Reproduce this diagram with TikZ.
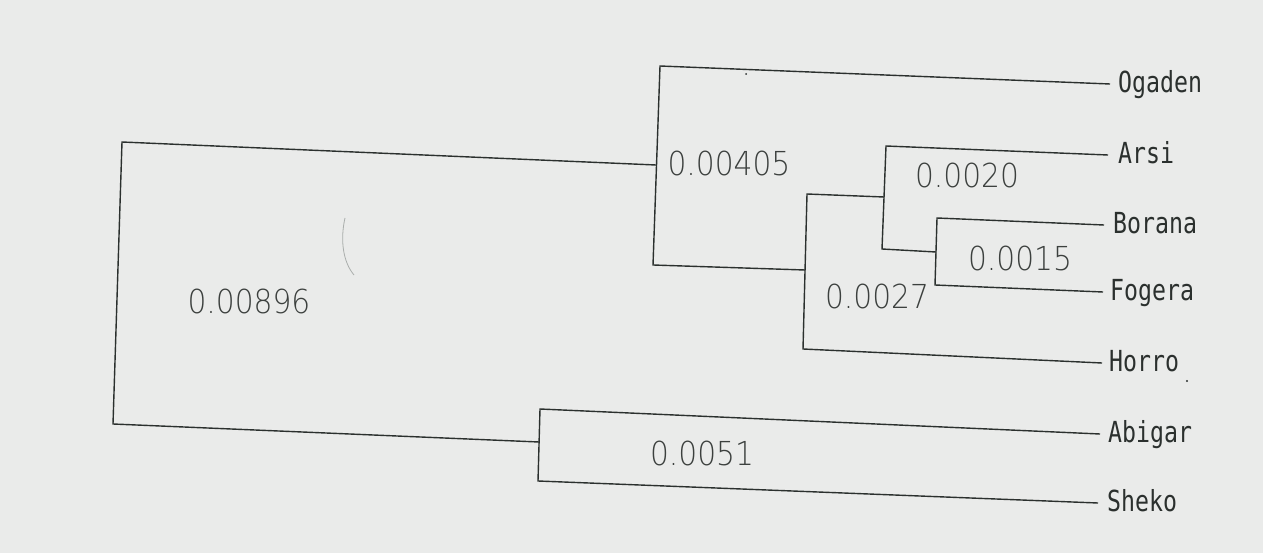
\documentclass[tikz,border=0pt]{standalone}
\usepackage{fontspec}
\newfontfamily\labfont{DejaVu Sans Mono}[FakeStretch=0.8]
\newfontfamily\numfont{DejaVuSans-ExtraLight.ttf}[FakeStretch=0.9]
\definecolor{bg}{HTML}{EAEBEA}
\definecolor{ink}{HTML}{2B302E}
\definecolor{numink}{HTML}{3C403E}
\definecolor{pencil}{HTML}{A9ADAB}
\begin{document}
\begin{tikzpicture}[x=1pt,y=-1pt,
  br/.style={draw=ink,line width=1.4pt,line join=miter},
  lab/.style={anchor=mid west,inner xsep=0pt,inner ysep=0pt,font=\labfont\fontsize{29}{29}\selectfont,text=ink},
  num/.style={inner sep=0pt,font=\numfont\fontsize{33}{33}\selectfont,text=numink}]
\fill[bg] (0,0) rectangle (1263,553);
\useasboundingbox (0,0) rectangle (1263,553);
% root
\coordinate (rt) at (122,142);
\coordinate (rb) at (113,424);
% node A (0.00405)
\coordinate (aT) at (660,66);
\coordinate (aJ) at (656,165);
\coordinate (aB) at (653,265);
% node B (0.0027)
\coordinate (bT) at (807,194);
\coordinate (bJ) at (805,270);
\coordinate (bB) at (803,349);
% node C (0.0020)
\coordinate (cT) at (886,146);
\coordinate (cJ) at (884,197);
\coordinate (cB) at (882,249);
% node D (0.0015)
\coordinate (dT) at (937,218);
\coordinate (dJ) at (936,252);
\coordinate (dB) at (935,285);
% node E (0.0051)
\coordinate (eT) at (540,409);
\coordinate (eJ) at (539,442);
\coordinate (eB) at (538,481);
% leaf ends
\coordinate (ogE) at (1110,84);
\coordinate (arE) at (1108,155);
\coordinate (boE) at (1104,225);
\coordinate (foE) at (1103,292);
\coordinate (hoE) at (1102,363);
\coordinate (abE) at (1100,434);
\coordinate (shE) at (1098,503);
% labels
\node[lab] (og) at ([xshift=8pt,yshift=-6.5pt]ogE) {Ogaden};
\node[lab] (ar) at ([xshift=10pt,yshift=-6.5pt]arE) {Arsi};
\node[lab] (bo) at ([xshift=9pt,yshift=-6.5pt]boE) {Borana};
\node[lab] (fo) at ([xshift=7pt,yshift=-6.5pt]foE) {Fogera};
\node[lab] (ho) at ([xshift=7pt,yshift=-6.5pt]hoE) {Horro};
\node[lab] (ab) at ([xshift=8pt,yshift=-6.5pt]abE) {Abigar};
\node[lab] (sh) at ([xshift=9pt,yshift=-6.5pt]shE) {Sheko};
% branches
\draw[br] (aJ) -- (rt) -- (rb) -- (eJ);
\draw[br] (ogE) -- (aT) -- (aB) -- (bJ);
\draw[br] (cJ) -- (bT) -- (bB) -- (hoE);
\draw[br] (arE) -- (cT) -- (cB) -- (dJ);
\draw[br] (boE) -- (dT) -- (dB) -- (foE);
\draw[br] (abE) -- (eT) -- (eB) -- (shE);
% distance values
\node[num] (n1) at (249,301) {0.00896};
\node[num] (n2) at (729,163) {0.00405};
\node[num] (n3) at (967,175) {0.0020};
\node[num] (n4) at (1020,258) {0.0015};
\node[num] (n5) at (877,296) {0.0027};
\node[num] (n6) at (702,453) {0.0051};
% pencil mark and specks
\draw[pencil,line width=0.8pt] (345,218) .. controls (340,240) and (343,262) .. (354,275);
\fill[ink] (746,74) circle (1pt);
\fill[ink] (1187,381) circle (1.1pt);
\end{tikzpicture}
\end{document}
